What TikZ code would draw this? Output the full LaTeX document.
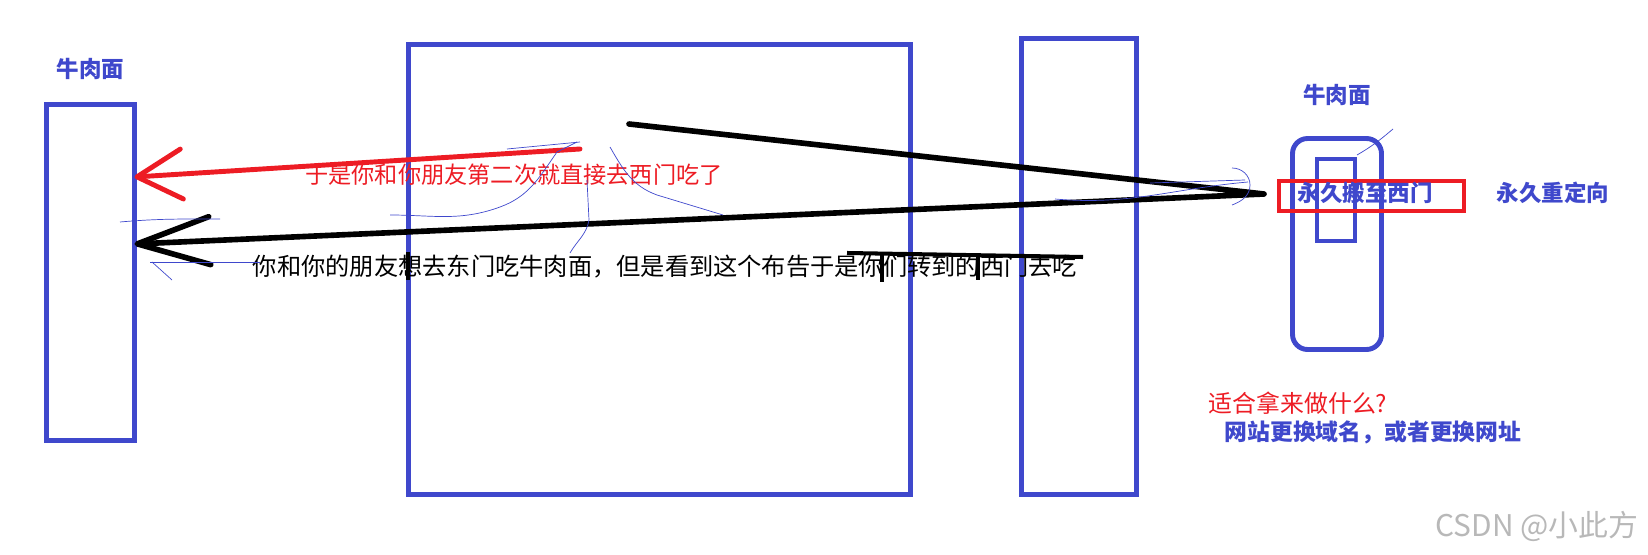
\documentclass[tikz,border=0pt]{standalone}
\usepackage{fontspec}
\usepackage{tikz}
\usetikzlibrary{arrows.meta, positioning}
\newfontfamily\cjk{Noto Sans CJK SC}
\definecolor{paintblue}{RGB}{63,72,204}
\definecolor{paintred}{RGB}{237,28,36}
\tikzstyle{box} = [rectangle, draw=paintblue, line width=2.8pt, inner sep=0pt, outer sep=0pt]
\tikzstyle{bluetext} = [text=paintblue, font=\cjk\bfseries\fontsize{12.8pt}{14pt}\selectfont, inner sep=1pt]
\tikzstyle{redtext} = [text=paintred, font=\cjk\fontsize{13.2pt}{15pt}\selectfont, inner sep=1pt]
\tikzstyle{blacktext} = [text=black, font=\cjk\fontsize{13.8pt}{15pt}\selectfont, inner sep=1pt]
\tikzstyle{redarrow} = [draw=paintred, line width=2.8pt, line cap=round, -{Straight Barb[length=0.9cm, width=1cm, round]}]
\tikzstyle{blackarrow} = [draw=black, line width=3.2pt, line cap=round, line join=round, -{Straight Barb[length=1.45cm, width=0.96cm, round]}]
\tikzstyle{scribble} = [draw=paintblue, line width=0.4pt]

\begin{document}
\begin{tikzpicture}[x=0.02cm, y=-0.02cm]
\useasboundingbox (0,0) rectangle (1648,554);
% boxes
\node (leftbox) [box, minimum width=1.76cm, minimum height=6.72cm] at (90.5,272.5) {};
\node (eastgate) [box, minimum width=10.04cm, minimum height=9cm] at (659.5,269.5) {};
\node (westgate) [box, minimum width=2.3cm, minimum height=9.12cm] at (1079,266.5) {};
\node (shop) [box, rounded corners=0.3cm, minimum width=1.78cm, minimum height=4.22cm] at (1337,244) {};
\node (notice) [box, line width=2.3pt, minimum width=0.76cm, minimum height=1.64cm] at (1336,200) {};
\node (leftname) [bluetext, above=0.45cm of leftbox] {牛肉面};
\node (shopname) [bluetext, above=0.62cm of shop] {牛肉面};
% red box over the notice
\node (movebox) [rectangle, draw=paintred, line width=2.3pt, minimum width=3.7cm, minimum height=0.6cm, inner sep=0pt] at (1371.5,196) {};
\node (movetext) [bluetext] at (1365,193) {永久搬至西门};
\node (redirect) [bluetext] at (1553,193) {永久重定向};
% texts
\node (secondtime) [redtext] at (514,175) {于是你和你朋友第二次就直接去西门吃了};
\node (firsttime) [blacktext] at (665,267) {你和你的朋友想去东门吃牛肉面，但是看到这个布告于是你们转到的西门去吃};
\node (question) [redtext, font=\cjk\fontsize{13.6pt}{15pt}\selectfont] at (1298,403) {适合拿来做什么?};
\node (answer) [bluetext, font=\cjk\bfseries\fontsize{13pt}{15pt}\selectfont] at (1373,432) {网站更换域名，或者更换网址};
\node (mark) [text=black!28, font=\cjk\fontsize{17pt}{19pt}\selectfont] at (1537,526) {CSDN @小此方};
% arrows
\coordinate (redstart) at (580,149);
\coordinate (redtip) at ([yshift=1.91cm]leftbox.east);
\coordinate (eaststart) at (629,124);
\coordinate (turn) at (1264,194);
\coordinate (blacktip) at ([yshift=0.57cm]leftbox.east);
\draw [redarrow] (redstart) -- (redtip);
\draw [blackarrow] (eaststart) -- (turn) -- (blacktip);
% marks over the black text
\draw [line width=2.3pt] (847,253) -- (1083,257);
\draw [line width=2.8pt] (408,252) -- (408,280);
\draw [line width=2.8pt] (882,253) -- (882,282);
\draw [line width=2.8pt] (978,253) -- (978,280);
% scribbles
\draw [scribble] (390,215) to[out=0,in=200] (500,207) to[out=20,in=235] (557,152) -- (577,142);
\draw [scribble] (507,149) -- (580,142);
\draw [scribble] (610,147) to[out=-60,in=160] (657,195) -- (723,215);
\draw [scribble] (587,180) -- (589,220) to[out=-100,in=60] (570,253);
\draw [scribble] (120,222) to[out=5,in=180] (220,219);
\draw [scribble] (150,262) -- (260,262);
\draw [scribble] (152,262) -- (172,280);
\draw [scribble] (1150,183) -- (1245,180);
\draw [scribble] (1232,168) to[out=0,in=90] (1250,185) to[out=-90,in=20] (1232,205);
\draw [scribble] (1357,155) to[out=30,in=-140] (1393,129);
\draw [scribble] (1055,199) to[out=-5,in=185] (1248,182);
\end{tikzpicture}
\end{document}
